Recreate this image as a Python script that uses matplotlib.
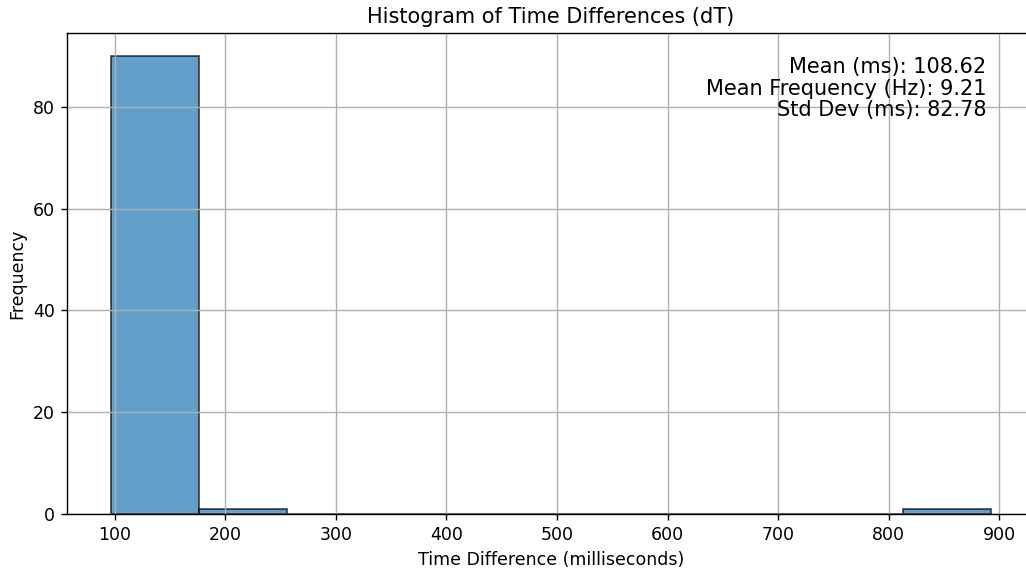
#!/usr/bin/env python3
"""
Histograma de diferencias de tiempo (dT).
"""

import numpy as np
import matplotlib
matplotlib.use("Agg")
import matplotlib.pyplot as plt

# Bordes de los bins (ms) y cuentas
dt_min = 96.7
dt_max = 892.5
n_bins = 10
counts = [90, 1, 0, 0, 0, 0, 0, 0, 0, 1]

mean_ms = 108.62
mean_freq_hz = 9.21
std_ms = 82.78


def main():
    edges = np.linspace(dt_min, dt_max, n_bins + 1)
    centers = (edges[:-1] + edges[1:]) / 2

    # Figura a 125 dpi para que el texto quede del tamaño del original
    dpi = 125
    fig = plt.figure(figsize=(1026 / dpi, 571 / dpi), dpi=dpi)
    ax = fig.add_axes([67 / 1026, 1 - 514 / 571, (1035 - 67) / 1026, (514 - 33) / 571])

    ax.hist(centers, bins=edges, weights=counts, edgecolor='black', alpha=0.7)
    ax.set_xlim(dt_min - 0.05 * (dt_max - dt_min), dt_max + 0.05 * (dt_max - dt_min))
    ax.set_title('Histogram of Time Differences (dT)')
    ax.set_xlabel('Time Difference (milliseconds)')
    ax.set_ylabel('Frequency')
    ax.grid(True)

    stats = (f'Mean (ms): {mean_ms:.2f}\n'
             f'Mean Frequency (Hz): {mean_freq_hz:.2f}\n'
             f'Std Dev (ms): {std_ms:.2f}')
    ax.text(0.95, 0.95, stats, transform=ax.transAxes, ha='right', va='top',
            fontsize=12, linespacing=1.1)

    fig.savefig('out.png', dpi=dpi)


if __name__ == '__main__':
    main()
